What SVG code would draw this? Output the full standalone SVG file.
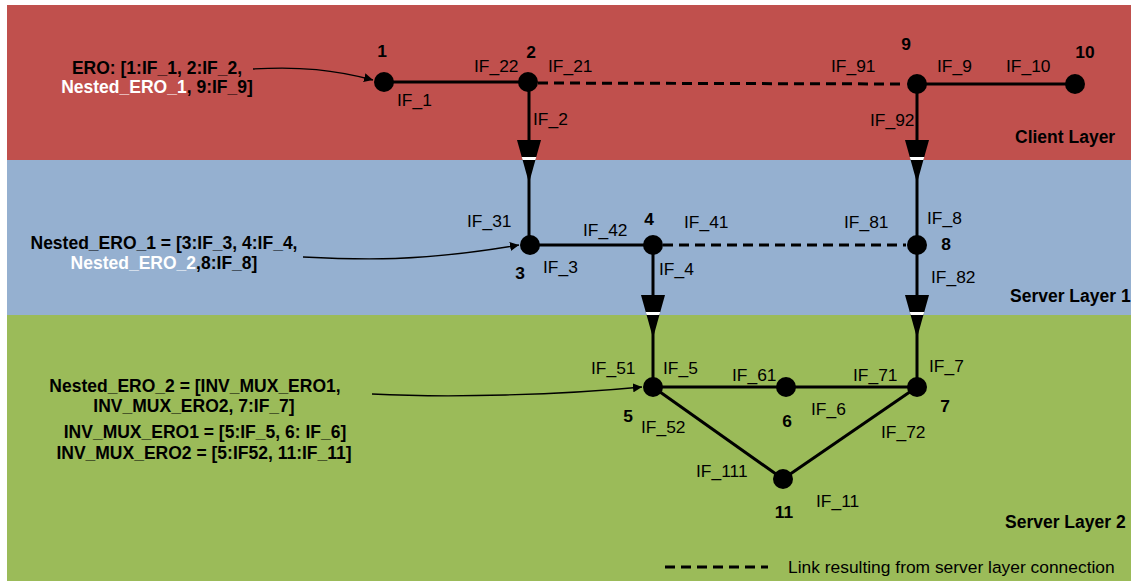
<svg xmlns="http://www.w3.org/2000/svg" width="1131" height="581" viewBox="0 0 1131 581">
<style>
.lbl{font-family:"Liberation Sans",Arial,sans-serif;font-size:17.4px;fill:#000}
.num{font-family:"Liberation Sans",Arial,sans-serif;font-size:17.4px;font-weight:bold;fill:#000;text-anchor:middle}
.ero{font-family:"Liberation Sans",Arial,sans-serif;font-size:17.5px;font-weight:bold;fill:#000;text-anchor:middle}
.w{fill:#fff}
.lay{font-family:"Liberation Sans",Arial,sans-serif;font-size:17.5px;font-weight:bold;fill:#000}
.edge{stroke:#000;stroke-width:3;fill:none}
.dash{stroke:#000;stroke-width:3;fill:none;stroke-dasharray:10 6}
.ptr{stroke:#000;stroke-width:1.3;fill:none;marker-end:url(#ah)}
.node{fill:#000}
</style>
<defs>
<marker id="ah" viewBox="0 0 10 10" refX="10" refY="5" markerWidth="9" markerHeight="9" markerUnits="userSpaceOnUse" orient="auto">
<path d="M0,0 L10,5 L0,10 z" fill="#000"/>
</marker>
<g id="xarrow">
<polygon points="-12,0 12,0 0,43" fill="#000"/>
<polygon points="-7.3,17 7.3,17 6.4,20 -6.4,20" fill="#fff"/>
</g>
</defs>
<rect x="0" y="0" width="1131" height="581" fill="#fff"/>
<g id="layers">
<rect x="7" y="5" width="1124" height="155" fill="#C0504D"/>
<rect x="7" y="160" width="1124" height="155" fill="#95B0D0"/>
<rect x="7" y="315" width="1124" height="266" fill="#9BBB59"/>
<text class="lay" x="1015" y="143">Client Layer</text>
<text class="lay" x="1010" y="302">Server Layer 1</text>
<text class="lay" x="1005" y="528">Server Layer 2</text>
</g>
<g id="connectors">
<line class="edge" x1="384" y1="82" x2="528" y2="82"/>
<line class="dash" x1="538" y1="83" x2="906" y2="84"/>
<line class="edge" x1="917" y1="84" x2="1075" y2="84"/>
<line class="edge" x1="529" y1="82" x2="529" y2="245"/>
<line class="edge" x1="917" y1="84" x2="917" y2="387"/>
<line class="edge" x1="530" y1="245" x2="653" y2="245"/>
<line class="dash" x1="663" y1="245" x2="906" y2="245"/>
<line class="edge" x1="653" y1="245" x2="653" y2="387"/>
<line class="edge" x1="653" y1="387" x2="917" y2="387"/>
<line class="edge" x1="653" y1="387" x2="783" y2="479"/>
<line class="edge" x1="783" y1="479" x2="917" y2="387"/>
<use href="#xarrow" transform="translate(529,140)"/>
<use href="#xarrow" transform="translate(917,140)"/>
<use href="#xarrow" transform="translate(653,295)"/>
<use href="#xarrow" transform="translate(917,295)"/>
<path class="ptr" d="M253,69 C300,66 335,70 373,80"/>
<path class="ptr" d="M303,257 C360,260 420,262 519,245"/>
<path class="ptr" d="M372,394 C450,398 560,395 642,387"/>
<line class="dash" x1="665" y1="567" x2="768" y2="567"/>
<text class="lbl" x="788" y="573">Link resulting from server layer connection</text>
</g>
<g id="n1"><circle class="node" cx="384" cy="82" r="10"/><text class="num" x="382" y="57">1</text><text class="lbl" x="397" y="106">IF_1</text></g>
<g id="n2"><circle class="node" cx="528" cy="82" r="10"/><text class="num" x="531" y="58">2</text><text class="lbl" x="474" y="72">IF_22</text><text class="lbl" x="548" y="72">IF_21</text><text class="lbl" x="533" y="125">IF_2</text></g>
<g id="n9"><circle class="node" cx="917" cy="84" r="10"/><text class="num" x="906" y="50">9</text><text class="lbl" x="831" y="72">IF_91</text><text class="lbl" x="937" y="72">IF_9</text><text class="lbl" x="870" y="126">IF_92</text></g>
<g id="n10"><circle class="node" cx="1075" cy="84" r="10"/><text class="num" x="1085" y="58">10</text><text class="lbl" x="1006" y="72">IF_10</text></g>
<g id="n3"><circle class="node" cx="530" cy="245" r="10"/><text class="num" x="520" y="279">3</text><text class="lbl" x="467" y="227">IF_31</text><text class="lbl" x="543" y="273">IF_3</text></g>
<g id="n4"><circle class="node" cx="653" cy="245" r="10"/><text class="num" x="649" y="225">4</text><text class="lbl" x="583" y="236">IF_42</text><text class="lbl" x="684" y="228">IF_41</text><text class="lbl" x="659" y="275">IF_4</text></g>
<g id="n8"><circle class="node" cx="917" cy="245" r="10"/><text class="num" x="946" y="250">8</text><text class="lbl" x="844" y="228">IF_81</text><text class="lbl" x="927" y="224">IF_8</text><text class="lbl" x="931" y="283">IF_82</text></g>
<g id="n5"><circle class="node" cx="653" cy="387" r="10"/><text class="num" x="628" y="422">5</text><text class="lbl" x="591" y="374">IF_51</text><text class="lbl" x="663" y="374">IF_5</text><text class="lbl" x="641" y="433">IF_52</text></g>
<g id="n6"><circle class="node" cx="786" cy="387" r="10"/><text class="num" x="787" y="427">6</text><text class="lbl" x="732" y="381">IF_61</text><text class="lbl" x="811" y="415">IF_6</text></g>
<g id="n7"><circle class="node" cx="917" cy="387" r="10"/><text class="num" x="945" y="412">7</text><text class="lbl" x="853" y="381">IF_71</text><text class="lbl" x="929" y="372">IF_7</text><text class="lbl" x="881" y="438">IF_72</text></g>
<g id="n11"><circle class="node" cx="783" cy="479" r="10"/><text class="num" x="784" y="518">11</text><text class="lbl" x="696" y="477">IF_111</text><text class="lbl" x="816" y="507">IF_11</text></g>
<g id="ero">
<text class="ero" x="157" y="74">ERO: [1:IF_1, 2:IF_2,</text>
<text class="ero" x="157" y="93"><tspan class="w">Nested_ERO_1</tspan>, 9:IF_9]</text>
</g>
<g id="nested1">
<text class="ero" x="164" y="249">Nested_ERO_1 = [3:IF_3, 4:IF_4,</text>
<text class="ero" x="164" y="269"><tspan class="w">Nested_ERO_2</tspan>,8:IF_8]</text>
</g>
<g id="nested2">
<text class="ero" x="195" y="392">Nested_ERO_2 = [INV_MUX_ERO1,</text>
<text class="ero" x="194" y="412">INV_MUX_ERO2, 7:IF_7]</text>
<text class="ero" x="205" y="438">INV_MUX_ERO1 = [5:IF_5, 6: IF_6]</text>
<text class="ero" x="204" y="459">INV_MUX_ERO2 = [5:IF52, 11:IF_11]</text>
</g>
</svg>
